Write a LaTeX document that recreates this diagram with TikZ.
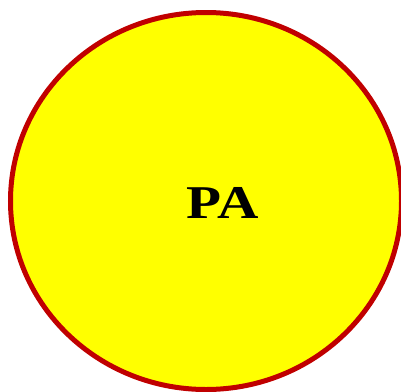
\documentclass[tikz,border=0pt]{standalone}
\usepackage{fontspec}
\setmainfont{Liberation Serif}
\usepackage{tikz}
\usetikzlibrary{shapes.geometric}
\definecolor{darkred}{RGB}{192,0,0}
\definecolor{brightyellow}{RGB}{255,255,0}

\tikzset{
  blob/.style={ellipse, draw=darkred, fill=brightyellow, line width=5pt,
    inner sep=0pt, minimum width=391pt, minimum height=377pt},
  tag/.style={font=\bfseries\fontsize{47}{47}\selectfont, inner sep=0pt}
}

\begin{document}
\begin{tikzpicture}[x=1pt, y=-1pt]
    \useasboundingbox (0,0) rectangle (401,391);

    \node[blob] (paoval) at (206,201) {};
    \node[tag] (pa) at (222.5,202.5) {\scalebox{1.22}[1]{PA}};
\end{tikzpicture}
\end{document}
